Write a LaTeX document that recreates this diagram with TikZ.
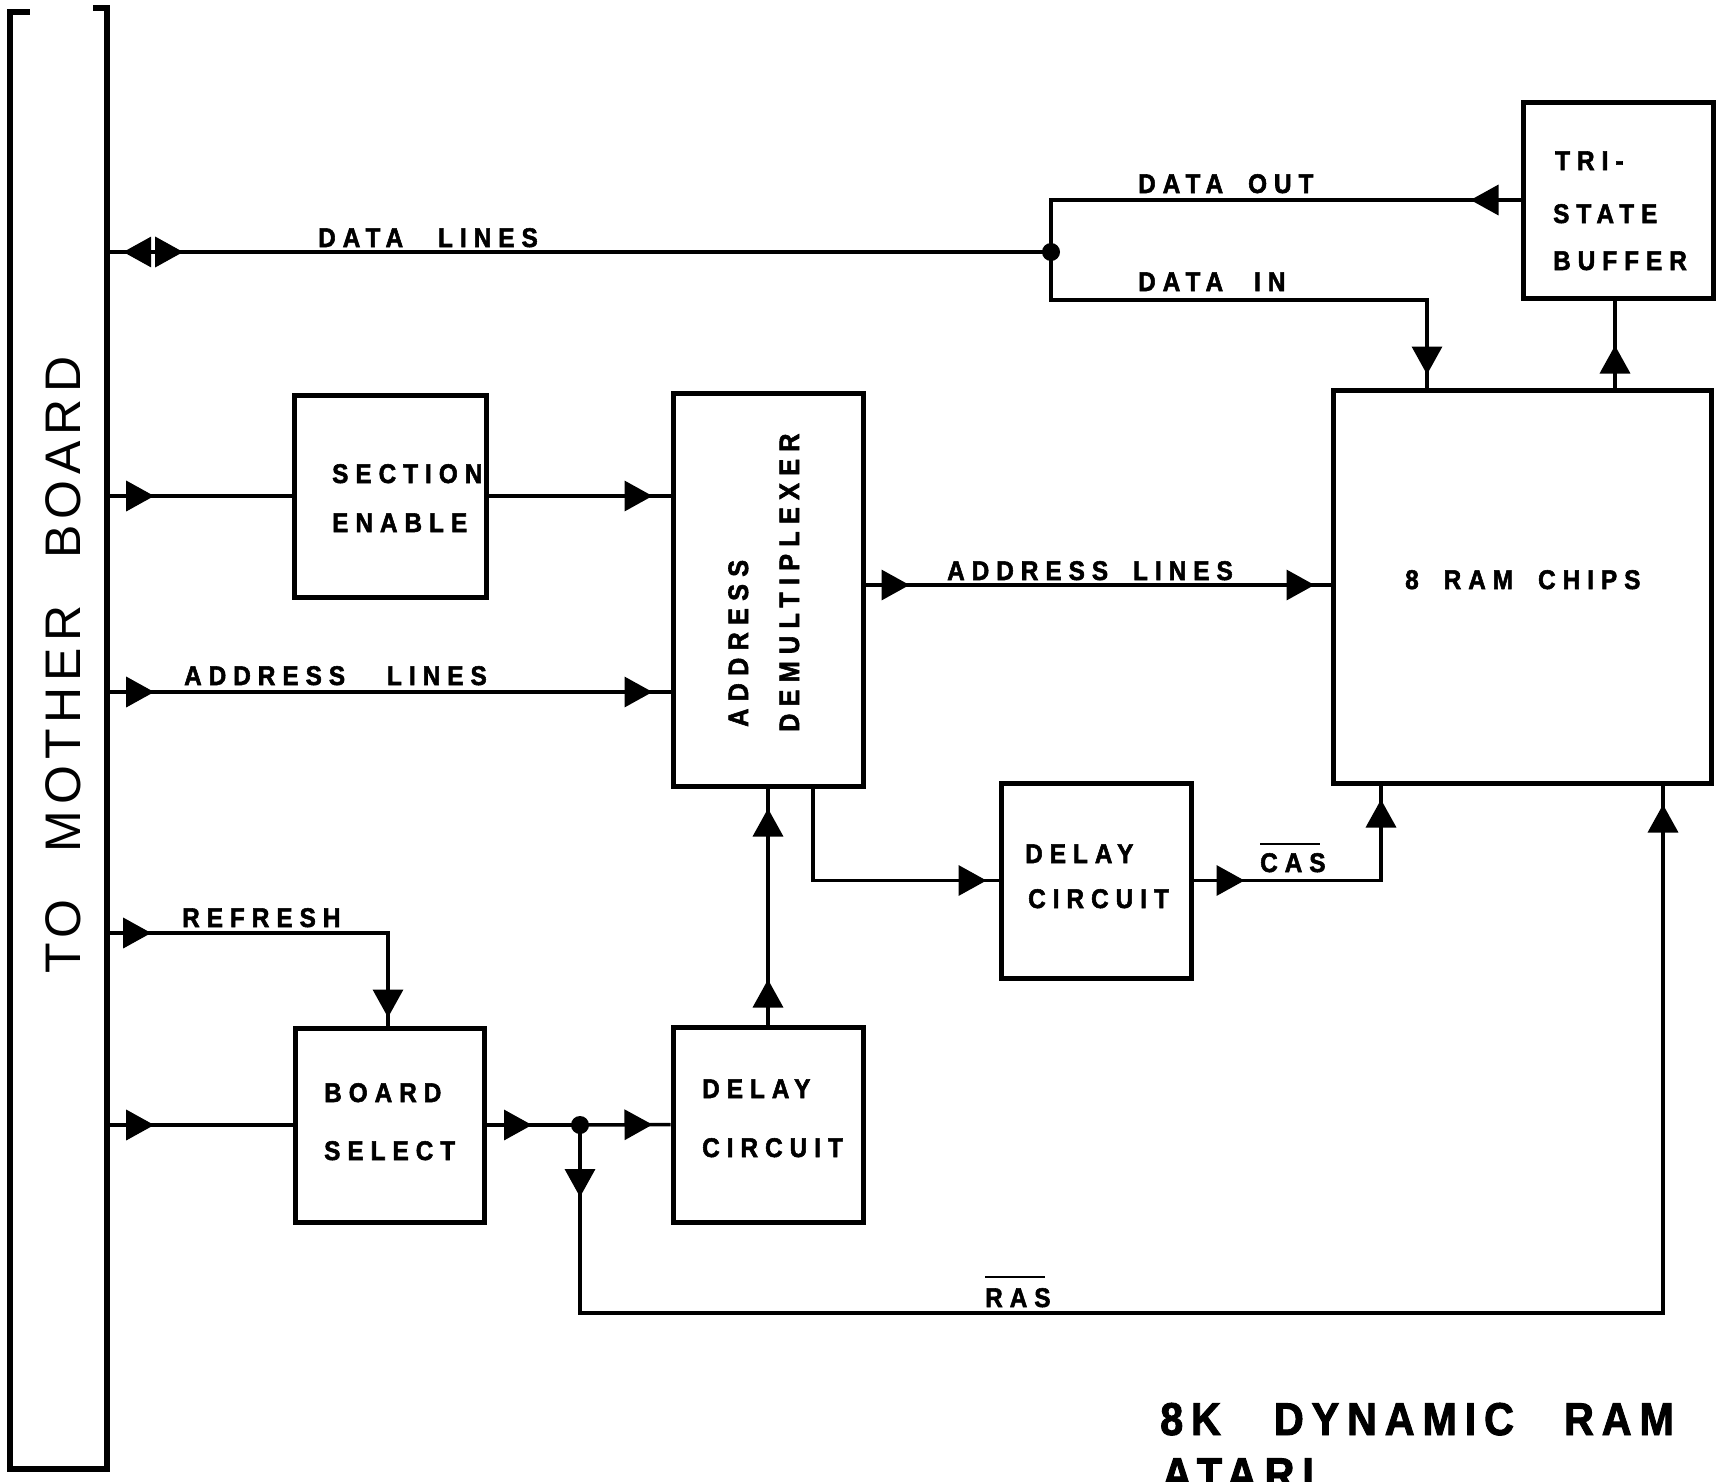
\documentclass[tikz,border=0pt]{standalone}
\usepackage{fontspec}
\usetikzlibrary{arrows.meta,decorations.markings}
\newfontfamily\lblfont[FakeStretch=0.9,LetterSpace=26,FakeBold=2]{Liberation Sans}
\newfontfamily\ttlfont[FakeStretch=0.9,LetterSpace=17,FakeBold=2]{Liberation Sans}
\newfontfamily\mbfont[LetterSpace=12]{Liberation Sans}
\newcommand{\wgap}[1]{\hspace*{#1pt}}
\tikzset{
  wire/.style={line width=3.5pt},
  blk/.style={draw, line width=5pt, rectangle, inner sep=0pt},
  lbl/.style={font=\lblfont\bfseries\fontsize{27}{32}\selectfont, inner sep=0pt, anchor=base west},
  dlbl/.style={font=\lblfont\bfseries\fontsize{28}{32}\selectfont, inner sep=0pt, anchor=base west, rotate=90},
  ttl/.style={font=\ttlfont\bfseries\fontsize{46}{50}\selectfont, inner sep=0pt, anchor=base west},
  fwd/.style={postaction={decorate,decoration={markings,mark=at position #1 with {\arrow{Triangle[length=28pt,width=30pt]}}}}},
  bwd/.style={postaction={decorate,decoration={markings,mark=at position #1 with {\arrowreversed{Triangle[length=28pt,width=30pt]}}}}},
  dot/.style={circle, fill, inner sep=0pt, minimum size=18pt},
}
\begin{document}
\begin{tikzpicture}[x=1pt,y=-1pt]
\useasboundingbox (0,0) rectangle (1722,1481);
\clip (0,0) rectangle (1722,1481);
\fill[white] (0,0) rectangle (1722,1481);

% mother board bar
\node[inner sep=0pt, minimum width=97pt, minimum height=1457pt] (mb) at (58.5,740.5) {};
\draw[line width=6.5pt] ([xshift=20pt]mb.north west) -- (mb.north west) -- (mb.south west)
  -- (mb.south east) -- ([yshift=4pt]mb.north east) -- ++(-14,0);
\node[font=\mbfont\fontsize{50}{50}\selectfont, rotate=90, anchor=base west, inner sep=0pt] (mbt) at (80,974) {TO\wgap{47}MOTHER\wgap{47}BOARD};

% blocks
\node[blk, minimum width=192pt, minimum height=202pt] (se) at (390,496) {};
\node[blk, minimum width=190pt, minimum height=393pt] (demux) at (768,589.5) {};
\node[blk, minimum width=378pt, minimum height=393pt] (ram) at (1522,586.5) {};
\node[blk, minimum width=190pt, minimum height=196pt] (tsb) at (1618,200) {};
\node[blk, minimum width=190pt, minimum height=195pt] (dl2) at (1096,880.5) {};
\node[blk, minimum width=189pt, minimum height=194pt] (bs) at (390,1125) {};
\node[blk, minimum width=190pt, minimum height=195pt] (dl1) at (768,1124.5) {};

% block texts
\node[lbl] (se1) at (332,483) {SECTION};
\node[lbl] (se2) at (332,532) {ENABLE};
\node[dlbl] (dm1) at (748,727) {ADDRESS};
\node[dlbl] (dm2) at (799,732) {DEMULTIPLEXER};
\node[lbl] (ramt) at (1405,589) {8\wgap{25}RAM\wgap{25}CHIPS};
\node[lbl] (tsb1) at (1555,170) {TRI-};
\node[lbl] (tsb2) at (1553,223) {STATE};
\node[lbl] (tsb3) at (1553,270) {BUFFER};
\node[lbl] (dl2a) at (1025,863) {DELAY};
\node[lbl] (dl2b) at (1028,908) {CIRCUIT};
\node[lbl] (bs1) at (324,1102) {BOARD};
\node[lbl] (bs2) at (324,1160) {SELECT};
\node[lbl] (dl1a) at (702,1098) {DELAY};
\node[lbl] (dl1b) at (702,1157) {CIRCUIT};

% junctions
\node[dot] (jdata) at (1051,252) {};
\node[dot] (jras) at (580,1125) {};
\coordinate (addrY) at (0,692);
\coordinate (ramY) at (0,585);
\coordinate (refY) at (0,933);
\coordinate (rasY) at (0,1313);
\coordinate (dinY) at (0,300);

% connectors
\draw[wire, fwd=76pt, bwd=16pt] (mb.east |- jdata.center) -- (jdata.center);
\draw[wire, fwd=50pt] (tsb.west) -- (tsb.west -| jdata.center) -- (jdata.center);
\draw[wire, fwd=-13pt] (jdata.center) -- (jdata.center |- dinY) -| ([xshift=-95pt]ram.north);
\draw[wire, fwd=42pt] ([xshift=93pt]ram.north) -- ([xshift=93pt]ram.north |- tsb.south);
\draw[wire, fwd=47pt] (mb.east |- se.west) -- (se.west);
\draw[wire, fwd=-18pt] (se.east) -- (se.east -| demux.west);
\draw[wire, fwd=47pt, fwd=-18pt] (mb.east |- addrY) -- (demux.west |- addrY);
\draw[wire, fwd=44pt, fwd=-16pt] (demux.east |- ramY) -- (ram.west |- ramY);
\draw[wire, fwd=-12pt] ([xshift=45pt]demux.south) |- (dl2.west);
\draw[wire, fwd=51pt, fwd=-14pt] (dl2.east) -| ([xshift=-141pt]ram.south);
\draw[wire, fwd=45pt, fwd=-20pt] (dl1.north) -- (dl1.north |- demux.south);
\draw[wire, fwd=44pt, fwd=-8pt] (mb.east |- refY) -| ([xshift=-2pt]bs.north);
\draw[wire, fwd=47pt] (mb.east |- bs.west) -- (bs.west);
\draw[wire, fwd=45pt] (bs.east) -- (jras.center);
\draw[wire, fwd=-18pt] (jras.center) -- (dl1.west);
\draw[wire, fwd=72pt, fwd=-19pt] (jras.center) -- (jras.center |- rasY) -| ([xshift=141pt]ram.south);

% connector labels
\node[lbl] (ldl) at (318,247) {DATA\wgap{35}LINES};
\node[lbl] (ldo) at (1138,193) {DATA\wgap{25}OUT};
\node[lbl] (ldi) at (1138,291) {DATA\wgap{31}IN};
\node[lbl] (lal) at (184,685) {ADDRESS\wgap{42}LINES};
\node[lbl] (lar) at (947,580) {ADDRESS\wgap{25}LINES};
\node[lbl] (lref) at (182,927) {REFRESH};
\node[lbl] (lcas) at (1260,872) {CAS};
\draw[line width=2.5pt] ([yshift=9pt]lcas.north west) -- ([yshift=9pt,xshift=-6pt]lcas.north east);
\node[lbl] (lras) at (985,1307) {RAS};
\draw[line width=2.5pt] ([yshift=11pt]lras.north west) -- ([yshift=11pt,xshift=-6pt]lras.north east);

% title
\node[ttl] (t1) at (1160,1435) {8K\wgap{53}DYNAMIC\wgap{50}RAM};
\node[ttl] (t2) at (1162,1490) {ATARI};
\end{tikzpicture}
\end{document}
